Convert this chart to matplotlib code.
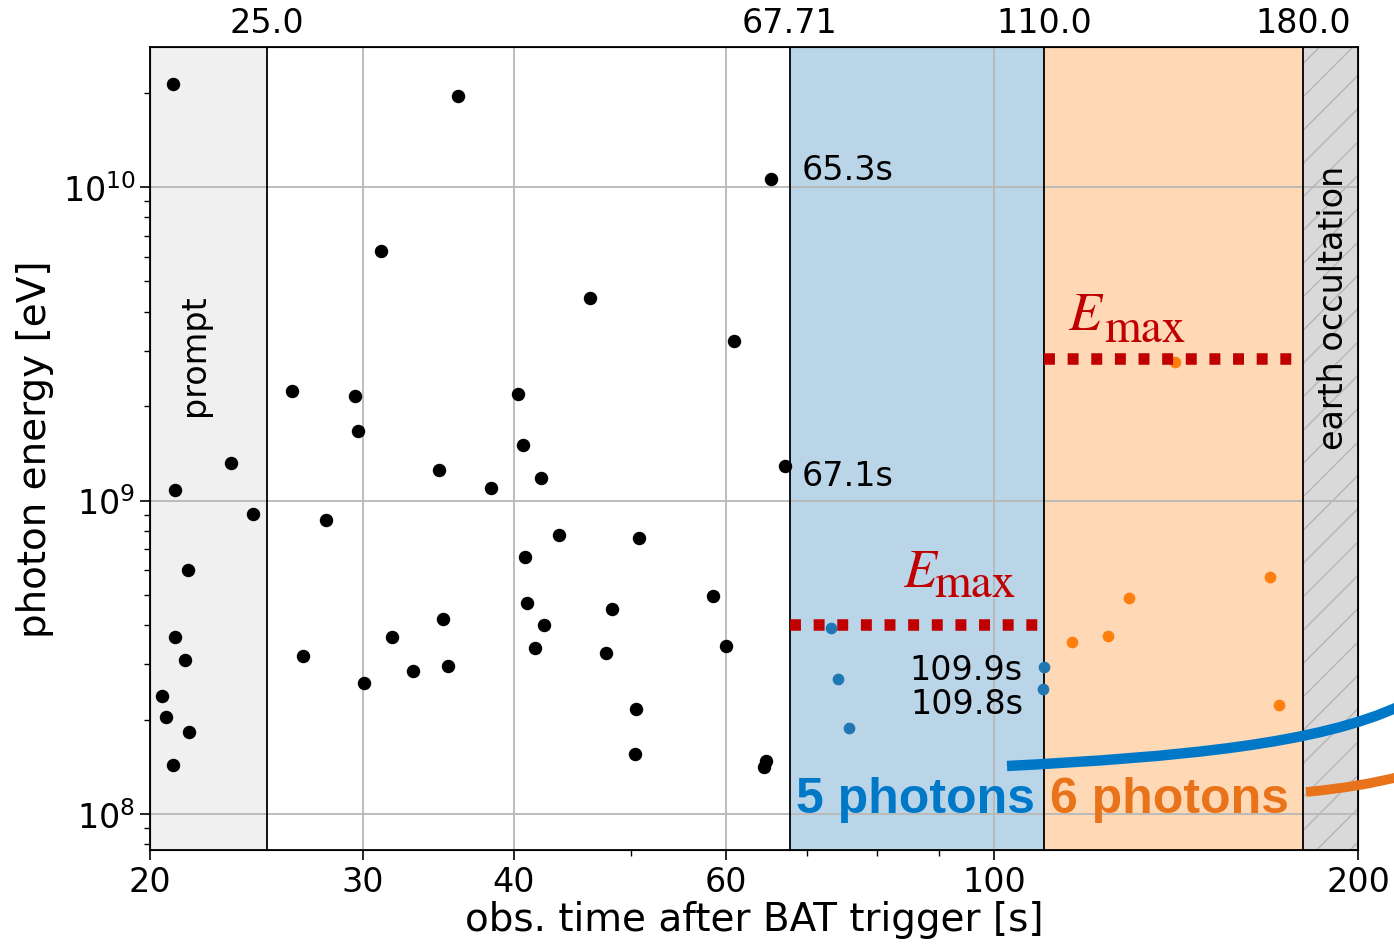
import matplotlib
matplotlib.use('Agg')
import matplotlib.pyplot as plt
from matplotlib.path import Path
from matplotlib.patches import PathPatch
from matplotlib.ticker import NullFormatter

# photons before the windows (black), 67.71-110 s (blue), 110-180 s (orange)
t_black = [20.88, 35.98, 65.3, 31.05, 46.27, 60.87, 26.2, 29.56, 40.34, 29.73,
           40.7, 34.7, 23.34, 42.14, 38.29, 67.1, 20.98, 24.32, 27.96, 43.62,
           50.83, 40.86, 21.49, 58.47, 41.02, 48.22, 34.96, 42.39, 20.98, 31.71,
           41.64, 59.93, 26.77, 47.70, 21.38, 35.30, 33.0, 30.07, 20.46, 20.61,
           50.51, 21.53, 50.44, 20.91, 64.67, 64.42]
e_black = [2.13e10, 1.955e10, 1.06e10, 6.26e9, 4.42e9, 3.23e9, 2.24e9, 2.16e9, 2.19e9, 1.67e9,
           1.50e9, 1.25e9, 1.32e9, 1.18e9, 1.096e9, 1.29e9, 1.08e9, 9.05e8, 8.69e8, 7.78e8,
           7.58e8, 6.59e8, 6.00e8, 4.97e8, 4.71e8, 4.51e8, 4.19e8, 4.01e8, 3.67e8, 3.67e8,
           3.38e8, 3.44e8, 3.20e8, 3.26e8, 3.10e8, 2.97e8, 2.86e8, 2.62e8, 2.38e8, 2.04e8,
           2.16e8, 1.83e8, 1.56e8, 1.43e8, 1.476e8, 1.415e8]
t_blue = [73.3, 74.2, 75.8, 109.9, 109.8]
e_blue = [3.92e8, 2.70e8, 1.88e8, 2.94e8, 2.50e8]
t_orange = [115.9, 124.1, 129.3, 141.1, 169.1, 172.2]
e_orange = [3.54e8, 3.69e8, 4.88e8, 2.76e9, 5.71e8, 2.23e8]

bounds = [25.0, 67.71, 110.0, 180.0]
bound_labels = ['25.0', '67.71', '110.0', '180.0']
emax_blue = 4.0e8
emax_orange = 2.83e9

xticks = [20, 30, 40, 60, 100, 200]
xminor = [50, 70, 80, 90]

W, H = 1394, 945
# hand drawn pointers (figure pixels, bezier control points)
blue_curve = [(1007, 767), (1180, 758), (1320, 745), (1402, 706)]
orange_curve = [(1306, 793), (1360, 788), (1402, 777)]

fig = plt.figure(figsize=(W / 100, H / 100), dpi=100)
ax = fig.add_axes([150 / W, 1 - 851 / H, 1208 / W, 803 / H])
ax.set_xscale('log')
ax.set_yscale('log')
ax.set_xlim(20, 200)
ax.set_ylim(7.68e7, 2.796e10)

ax.axvspan(20, bounds[0], color='#f0f0f0', lw=0)
ax.axvspan(bounds[1], bounds[2], color='tab:blue', alpha=0.3, lw=0)
ax.axvspan(bounds[2], bounds[3], color='tab:orange', alpha=0.3, lw=0)
ax.axvspan(bounds[3], 200, facecolor='#d9d9d9', edgecolor='#b5b5b5', hatch='/', lw=0)
for b in bounds:
    ax.axvline(b, color='k', lw=1.3, zorder=2)

ax.grid(True, which='major', color='#b8b8b8', lw=1.3)

ax.scatter(t_black, e_black, s=75, color='k', zorder=3)
ax.scatter(t_blue, e_blue, s=55, color='tab:blue', zorder=3)
ax.scatter(t_orange, e_orange, s=55, color='tab:orange', zorder=3)

ax.plot([bounds[1], bounds[2]], [emax_blue, emax_blue], color='#c00000', lw=8.3,
        linestyle=(0, (0.95, 1.1)), dash_capstyle='butt', zorder=4)
ax.plot([bounds[2], bounds[3]], [emax_orange, emax_orange], color='#c00000', lw=8.3,
        linestyle=(0, (0.95, 1.1)), dash_capstyle='butt', zorder=4)

# E_max labels: italic E with a large upright subscript
ax.text(84.0, 5.34e8, 'E', color='#c00000', fontsize=39, family='STIXGeneral',
        style='italic', va='baseline')
ax.text(89.2, 4.96e8, 'max', color='#c00000', fontsize=34, family='STIXGeneral',
        va='baseline')
ax.text(115.1, 3.52e9, 'E', color='#c00000', fontsize=39, family='STIXGeneral',
        style='italic', va='baseline')
ax.text(123.4, 3.23e9, 'max', color='#c00000', fontsize=34, family='STIXGeneral',
        va='baseline')

ax.text(69.3, 1.06e10, '65.3s', fontsize=24, va='baseline')
ax.text(69.3, 1.12e9, '67.1s', fontsize=24, va='baseline')
ax.text(105.6, 2.70e8, '109.9s', fontsize=24, va='baseline', ha='right')
ax.text(105.6, 2.10e8, '109.8s', fontsize=24, va='baseline', ha='right')

ax.text(21.75, 2.93e9, 'prompt', fontsize=24, rotation=90, ha='center', va='center')
ax.text(190.8, 4.14e9, 'earth occultation', fontsize=24, rotation=90, ha='center', va='center')

ax.text(108.0, 1.015e8, '5 photons', color='#0078c8', fontsize=36, fontweight='bold',
        family='Liberation Sans', ha='right', va='baseline', zorder=5)
ax.text(111.2, 1.015e8, '6 photons', color='#e8731a', fontsize=36, fontweight='bold',
        family='Liberation Sans', ha='left', va='baseline', zorder=5)

ax.set_xticks(xticks)
ax.set_xticklabels([str(v) for v in xticks])
ax.set_xticks(xminor, minor=True)
ax.xaxis.set_minor_formatter(NullFormatter())
ax.tick_params(which='major', labelsize=24, length=7, width=1.2)
ax.tick_params(which='minor', length=4, width=1.0)
ax.set_xlabel('obs. time after BAT trigger [s]', fontsize=28, labelpad=2)
ax.set_ylabel('photon energy [eV]', fontsize=28, labelpad=6)
for sp in ax.spines.values():
    sp.set_linewidth(1.3)

top = ax.twiny()
top.set_xscale('log')
top.set_xlim(ax.get_xlim())
top.set_xticks(bounds)
top.set_xticklabels(bound_labels)
top.set_xticks([], minor=True)
top.tick_params(labelsize=24, length=0, pad=6)


def to_fig(pts):
    return [(x / W, 1 - y / H) for x, y in pts]


p = Path(to_fig(blue_curve), [Path.MOVETO, Path.CURVE4, Path.CURVE4, Path.CURVE4])
fig.add_artist(PathPatch(p, fc='none', ec='#0078c8', lw=7.5, transform=fig.transFigure,
                         capstyle='butt'))
p = Path(to_fig(orange_curve), [Path.MOVETO, Path.CURVE3, Path.CURVE3])
fig.add_artist(PathPatch(p, fc='none', ec='#e8731a', lw=7, transform=fig.transFigure,
                         capstyle='butt'))

fig.savefig('out.png', dpi=100)
